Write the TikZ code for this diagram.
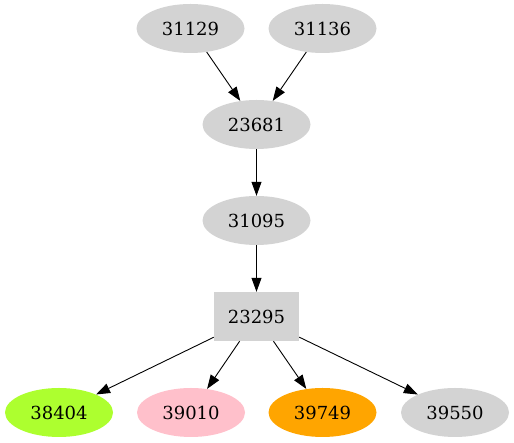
\documentclass[tikz,border=0pt]{standalone}
\usepackage{fontspec}
\setmainfont{DejaVu Serif}
\usetikzlibrary{shapes.geometric,arrows.meta}
\definecolor{lgray}{HTML}{D3D3D3}
\definecolor{ygreen}{HTML}{ADFF2F}
\definecolor{lpink}{HTML}{FFC0CB}
\definecolor{dorange}{HTML}{FFA500}
\tikzset{
	vert/.style = {ellipse, fill = lgray, minimum width = 108pt, minimum height = 49pt, inner sep = 0pt, font = \fontsize{18}{21}\selectfont},
	hub/.style = {rectangle, fill = lgray, minimum width = 85pt, minimum height = 49pt, inner sep = 0pt, font = \fontsize{18}{21}\selectfont},
	edge/.style = {-{Triangle[length = 14pt, width = 10pt]}, black, line width = 0.9pt}
}
\begin{document}
\begin{tikzpicture}[x = 1pt, y = 1pt]
	\useasboundingbox (0,0) rectangle (514,443);
	% top row
	\node [vert] (n31129) at (190.5,414.5) {31129};
	\node [vert] (n31136) at (322.5,414.5) {31136};
	% chain
	\node [vert] (n23681) at (256.5,318.5) {23681};
	\node [vert] (n31095) at (256.5,222.5) {31095};
	\node [hub] (n23295) at (256.5,126.5) {23295};
	% bottom row
	\node [vert, fill = ygreen] (n38404) at (59,30.5) {38404};
	\node [vert, fill = lpink] (n39010) at (191,30.5) {39010};
	\node [vert, fill = dorange] (n39749) at (322.5,30.5) {39749};
	\node [vert] (n39550) at (455,30.5) {39550};
	\draw [edge] (n31129) -- (n23681);
	\draw [edge] (n31136) -- (n23681);
	\draw [edge] (n23681) -- (n31095);
	\draw [edge] (n31095) -- (n23295);
	\foreach \t in {n38404,n39010,n39749,n39550}{
	\draw [edge] (n23295) -- (\t);
	}
\end{tikzpicture}
\end{document}
